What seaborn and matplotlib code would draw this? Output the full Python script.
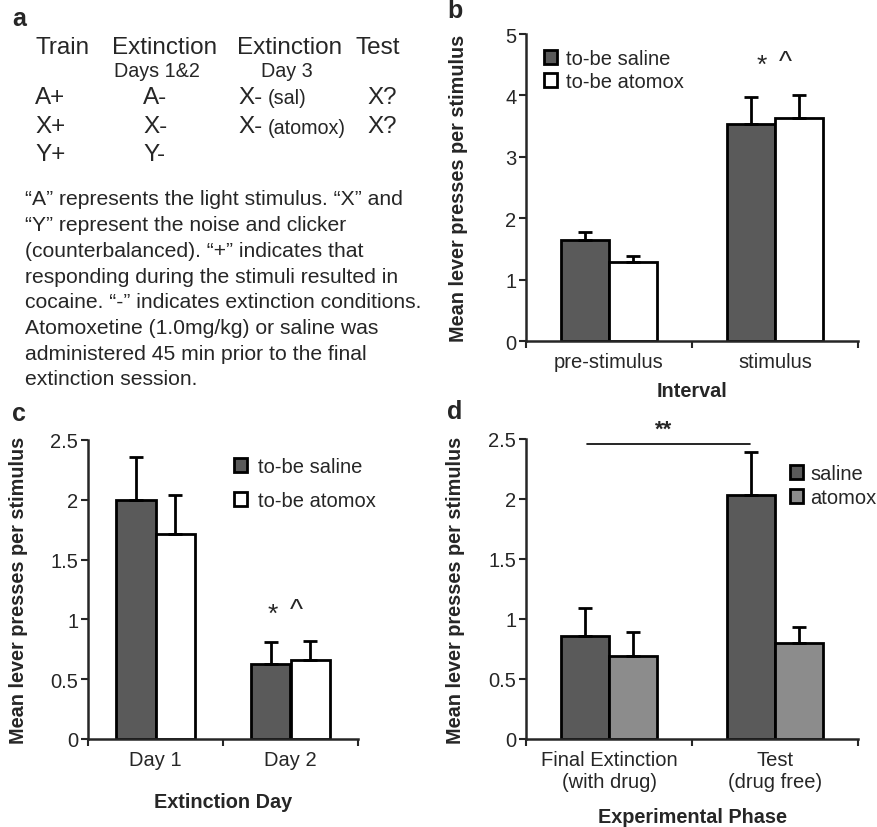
import numpy as np
import pandas as pd
import matplotlib
matplotlib.use('Agg')
import matplotlib.pyplot as plt
import seaborn as sns
from matplotlib.ticker import FixedLocator

sns.set_style('white')
plt.rcParams['font.family'] = ['Liberation Sans', 'DejaVu Sans']

# ---- data ----
b_cats = ['pre-stimulus', 'stimulus']
b_groups = ['to-be saline', 'to-be atomox']
b_saline = [1.65, 3.54]
b_atomox = [1.28, 3.64]
b_saline_err = [0.13, 0.43]
b_atomox_err = [0.10, 0.37]

c_cats = ['Day 1', 'Day 2']
c_groups = ['to-be saline', 'to-be atomox']
c_saline = [2.00, 0.63]
c_atomox = [1.71, 0.66]
c_saline_err = [0.36, 0.18]
c_atomox_err = [0.33, 0.16]

d_cats = ['Final Extinction\n(with drug)', 'Test\n(drug free)']
d_groups = ['saline', 'atomox']
d_saline = [0.86, 2.03]
d_atomox = [0.69, 0.80]
d_saline_err = [0.23, 0.36]
d_atomox_err = [0.20, 0.13]

W, H = 877, 828
fig = plt.figure(figsize=(W / 100, H / 100), dpi=100)

TICK_FS = 14.5
LAB_FS = 14.3
LEG_FS = 14.5


def px(x, y):
    return x / W, 1 - y / H


def bar_panel(rect, cats, groups, v1, v2, e1, e2, colors, ymax, yticks, ytlabels, xlabel, xlab_y):
    ax = fig.add_axes(rect)
    df = pd.DataFrame({'cat': cats * 2, 'grp': [groups[0]] * 2 + [groups[1]] * 2, 'val': v1 + v2})
    sns.barplot(data=df, x='cat', y='val', hue='grp', palette=colors, edgecolor='black',
                linewidth=2, width=0.58, errorbar=None, ax=ax, saturation=1)
    for cont, errs, vals in zip(ax.containers, [e1, e2], [v1, v2]):
        xs = [p.get_x() + p.get_width() / 2 for p in cont]
        ax.errorbar(xs, vals, yerr=[np.zeros(len(errs)), errs], fmt='none', ecolor='black',
                    elinewidth=2, capsize=5, capthick=2, zorder=1)
    ax.set_xlim(-0.5, 1.5)
    ax.set_ylim(0, ymax)
    ax.set_yticks(yticks)
    ax.set_yticklabels(ytlabels, fontsize=TICK_FS)
    ax.tick_params(axis='x', which='major', length=0, labelsize=TICK_FS, pad=8)
    ax.xaxis.set_minor_locator(FixedLocator([-0.5, 0.5, 1.5]))
    ax.tick_params(axis='x', which='minor', length=5, width=1.5, direction='out', bottom=True)
    ax.tick_params(axis='y', length=5, width=1.5, direction='out', left=True, pad=2)
    sns.despine(ax=ax)
    for s in ['left', 'bottom']:
        ax.spines[s].set_linewidth(1.8)
    ax.set_ylabel('Mean lever presses per stimulus', fontsize=LAB_FS, fontweight='bold')
    ax.set_xlabel(xlabel, fontsize=LAB_FS, fontweight='bold')
    ax.xaxis.set_label_coords(0.5, xlab_y)
    ax.get_legend().remove()
    return ax


# ---- panel b ----
axb = bar_panel([526 / W, 1 - 342 / H, 332 / W, 307 / H], b_cats, b_groups, b_saline, b_atomox,
                b_saline_err, b_atomox_err, ['#5a5a5a', 'white'], 5, [0, 1, 2, 3, 4, 5],
                ['0', '1', '2', '3', '4', '5'], 'Interval', -0.13)
axb.yaxis.set_label_coords(-0.175, 0.5)
hb, lb = axb.get_legend_handles_labels()
axb.legend(hb[:2], b_groups, loc='upper left', bbox_to_anchor=px(534, 40), bbox_transform=fig.transFigure,
           frameon=False, fontsize=LEG_FS, handlelength=0.65, handleheight=0.65, handletextpad=0.45,
           labelspacing=0.2, borderpad=0)
axb.text(0.92, 4.5, '*', fontsize=19, ha='center', va='center')
axb.text(1.06, 4.55, '^', fontsize=20, ha='center', va='center')

# ---- panel c ----
axc = bar_panel([88 / W, 1 - 740 / H, 270 / W, 299 / H], c_cats, c_groups, c_saline, c_atomox,
                c_saline_err, c_atomox_err, ['#5a5a5a', 'white'], 2.5, [0, 0.5, 1, 1.5, 2, 2.5],
                ['0', '0.5', '1', '1.5', '2', '2.5'], 'Extinction Day', -0.177)
axc.yaxis.set_label_coords(-0.222, 0.5)
hc, lc = axc.get_legend_handles_labels()
axc.legend(hc[:2], c_groups, loc='upper left', bbox_to_anchor=px(224, 448), bbox_transform=fig.transFigure,
           frameon=False, fontsize=LEG_FS, handlelength=0.65, handleheight=0.65, handletextpad=0.55,
           labelspacing=0.75, borderpad=0)
axc.text(0.87, 1.05, '*', fontsize=19, ha='center', va='center')
axc.text(1.04, 1.08, '^', fontsize=20, ha='center', va='center')

# ---- panel d ----
axd = bar_panel([526 / W, 1 - 740 / H, 332 / W, 300 / H], d_cats, d_groups, d_saline, d_atomox,
                d_saline_err, d_atomox_err, ['#5a5a5a', '#8c8c8c'], 2.5, [0, 0.5, 1, 1.5, 2, 2.5],
                ['0', '0.5', '1', '1.5', '2', '2.5'], 'Experimental Phase', -0.227)
axd.yaxis.set_label_coords(-0.184, 0.5)
hd, ld = axd.get_legend_handles_labels()
axd.legend(hd[:2], d_groups, loc='upper left', bbox_to_anchor=px(780, 455), bbox_transform=fig.transFigure,
           frameon=False, fontsize=LEG_FS, handlelength=0.65, handleheight=0.65, handletextpad=0.35,
           labelspacing=0.25, borderpad=0)
axd.plot([-0.13, 0.85], [2.46, 2.46], color='black', lw=1.2, clip_on=False)
axd.text(0.33, 2.49, '**', fontsize=16, fontweight='bold', ha='center', va='bottom')

# ---- panel a (text) ----
big, small, para = 17.5, 14.2, 15.2
for x, s in [(35, 'Train'), (112, 'Extinction'), (237, 'Extinction'), (355, 'Test')]:
    fig.text(*px(x, 48), s, fontsize=big, va='center')
fig.text(*px(157, 72), 'Days 1&2', fontsize=small, va='center', ha='center')
fig.text(*px(287, 72), 'Day 3', fontsize=small, va='center', ha='center')
rows_y = [98, 127, 155]
for y, s in zip(rows_y, ['A+', 'X+', 'Y+']):
    fig.text(*px(35, y), s, fontsize=big, va='center')
for y, s in zip(rows_y, ['A-', 'X-', 'Y-']):
    fig.text(*px(143, y), s, fontsize=big, va='center')
for y, s in zip(rows_y[:2], ['(sal)', '(atomox)']):
    fig.text(*px(238, y), 'X-', fontsize=big, va='center')
    fig.text(*px(268, y + 1), s, fontsize=small, va='center')
    fig.text(*px(367, y), 'X?', fontsize=big, va='center')

para_lines = [
    '\u201cA\u201d represents the light stimulus. \u201cX\u201d and',
    '\u201cY\u201d represent the noise and clicker',
    '(counterbalanced). \u201c+\u201d indicates that',
    'responding during the stimuli resulted in',
    'cocaine. \u201c-\u201d indicates extinction conditions.',
    'Atomoxetine (1.0mg/kg) or saline was',
    'administered 45 min prior to the final',
    'extinction session.',
]
for i, line in enumerate(para_lines):
    fig.text(*px(25, 200 + i * 25.7), line, fontsize=para, va='center')

# panel letters
for x, y, s in [(12, 19, 'a'), (447, 11, 'b'), (12, 414, 'c'), (447, 412, 'd')]:
    fig.text(*px(x, y), s, fontsize=18, fontweight='bold', va='center')

plt.savefig('out.png', dpi=100)
